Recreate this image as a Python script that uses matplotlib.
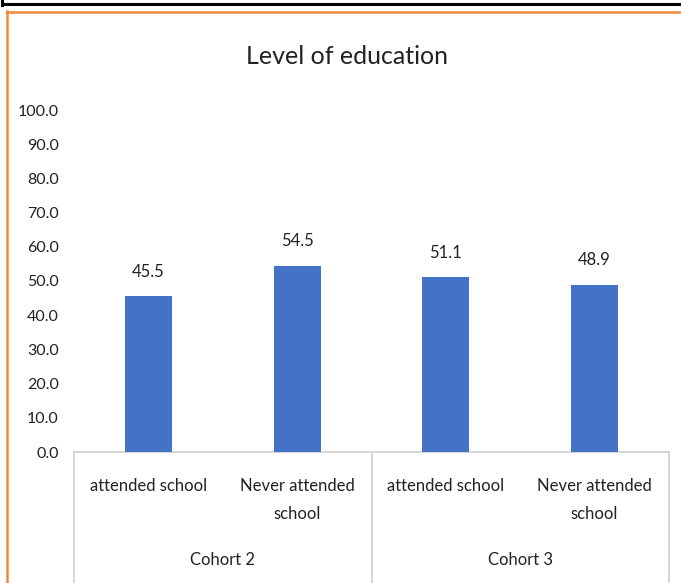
import matplotlib
matplotlib.use("Agg")
import matplotlib.pyplot as plt
from matplotlib.lines import Line2D
import matplotlib.transforms as mtransforms

plt.rcParams['font.family'] = ['Lato', 'DejaVu Sans']

title = "Level of education"
categories = ["attended school", "Never attended\nschool", "attended school", "Never attended\nschool"]
groups = ["Cohort 2", "Cohort 3"]
values = [45.5, 54.5, 51.1, 48.9]
yticks = [0, 10, 20, 30, 40, 50, 60, 70, 80, 90, 100]

W, H = 681, 583
fig = plt.figure(figsize=(W / 100, H / 100), dpi=100)

def fx(x): return x / W
def fy(y): return 1 - y / H
fig.add_artist(Line2D([fx(2), fx(681)], [fy(3.5), fy(3.5)], color='black', lw=2.2))
fig.add_artist(Line2D([fx(2), fx(2)], [fy(0), fy(4.5)], color='black', lw=2.2))
fig.add_artist(Line2D([fx(7), fx(681)], [fy(12), fy(12)], color='#F0883A', lw=1.8))
fig.add_artist(Line2D([fx(7), fx(7)], [fy(11), fy(583)], color='#F0883A', lw=1.8))

left, right, top, bottom = 74, 669, 110, 452
ax = fig.add_axes([fx(left), fy(bottom), (right - left) / W, (bottom - top) / H])

x = [i + 0.5 for i in range(len(values))]
ax.bar(x, values, width=0.316, color='#4472C4', zorder=3)
ax.set_xlim(0, len(values))
ax.set_ylim(0, 100)
ax.set_yticks(yticks)
ax.set_yticklabels([f"{v:.1f}" for v in yticks])
ax.tick_params(axis='y', length=0, pad=11, labelsize=11.5, labelcolor='#222222')
ax.set_xticks([])
for s in ['top', 'right', 'left']:
    ax.spines[s].set_visible(False)
ax.spines['bottom'].set_color('#D0D0D0')
ax.spines['bottom'].set_linewidth(1.2)

for xi, v in zip(x, values):
    ax.annotate(f"{v:.1f}", (xi, v), xytext=(0, 12), textcoords='offset points',
                ha='center', va='bottom', fontsize=12, color='#222222')

axh = bottom - top
def ay(ypx): return (bottom - ypx) / axh
trans = mtransforms.blended_transform_factory(ax.transData, ax.transAxes)

for xs in [0, 2, 4]:
    ax.add_line(Line2D([xs, xs], [0, ay(590)], transform=trans, color='#D0D0D0',
                       lw=1.2, clip_on=False))

for xi, lab in zip(x, categories):
    ax.text(xi, ay(478), lab, transform=trans, ha='center', va='top',
            fontsize=12, color='#222222', linespacing=1.95)

for gi, g in enumerate(groups):
    ax.text(gi * 2 + 1, ay(560), g, transform=trans, ha='center', va='center',
            fontsize=12, color='#222222')

fig.text(fx(347), fy(57), title, ha='center', va='center', fontsize=18, color='#222222')

fig.savefig("out.png", dpi=100)
